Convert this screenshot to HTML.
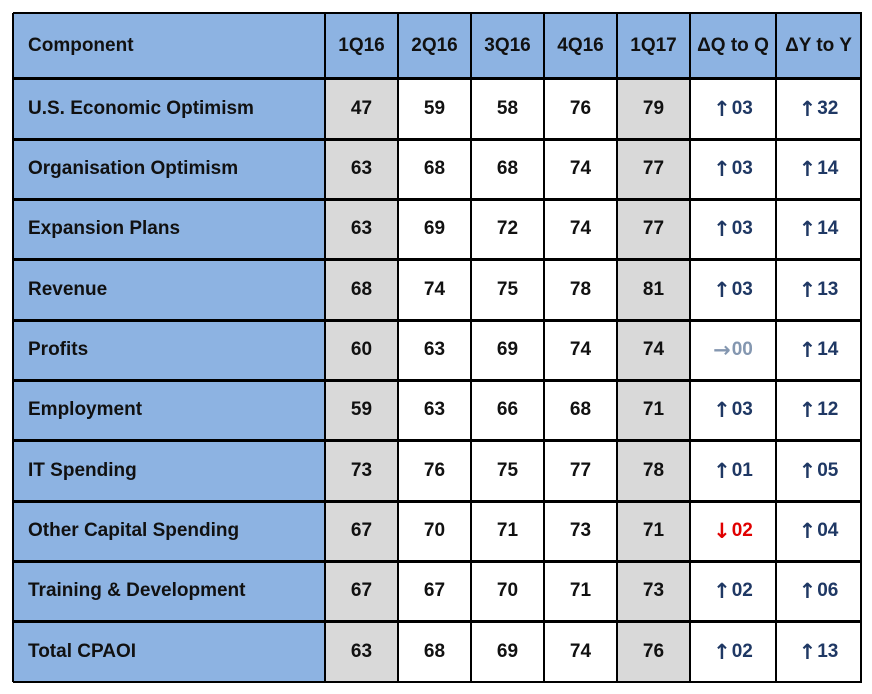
<!DOCTYPE html>
<html><head><meta charset="utf-8"><style>
body{margin:0;width:872px;height:694px;background:#fff;position:relative;font-family:"Liberation Sans",sans-serif;font-weight:bold;overflow:hidden}
.c{position:absolute;box-sizing:border-box;display:flex;align-items:center;justify-content:center;font-size:19px;color:#111}
.l{justify-content:flex-start;padding-left:15px}
.ln{position:absolute;background:#000}
.ar{font-family:"DejaVu Sans",sans-serif;font-weight:bold;font-size:21px;margin-right:1px}
</style></head><body>
<div id="t"></div>
<script>
const colX=[13,325,398,471,544,617,690,776,861];
const rowY=[13,78,139,199,259,320,380,440,501,561,621,682];
const headers=["Component","1Q16","2Q16","3Q16","4Q16","1Q17","ΔQ to Q","ΔY to Y"];
const rows=[
["U.S. Economic Optimism",47,59,58,76,79,["u","03"],["u","32"]],
["Organisation Optimism",63,68,68,74,77,["u","03"],["u","14"]],
["Expansion Plans",63,69,72,74,77,["u","03"],["u","14"]],
["Revenue",68,74,75,78,81,["u","03"],["u","13"]],
["Profits",60,63,69,74,74,["r","00"],["u","14"]],
["Employment",59,63,66,68,71,["u","03"],["u","12"]],
["IT Spending",73,76,75,77,78,["u","01"],["u","05"]],
["Other Capital Spending",67,70,71,73,71,["d","02"],["u","04"]],
["Training & Development",67,67,70,71,73,["u","02"],["u","06"]],
["Total CPAOI",63,68,69,74,76,["u","02"],["u","13"]]];
const t=document.getElementById('t');
function cell(ci,ri,bg){const d=document.createElement('div');d.className='c'+(ci==0?' l':'');
d.style.left=colX[ci]+'px';d.style.top=rowY[ri]+'px';d.style.width=(colX[ci+1]-colX[ci])+'px';d.style.height=(rowY[ri+1]-rowY[ri])+'px';d.style.background=bg;t.appendChild(d);return d;}
headers.forEach((h,ci)=>{const d=cell(ci,0,'#8DB3E2');d.textContent=h;

});
rows.forEach((r,ri)=>{r.forEach((v,ci)=>{
let bg='#fff';if(ci==0)bg='#8DB3E2';else if(ci==1||ci==5)bg='#D9D9D9';
const d=cell(ci,ri+1,bg);
if(Array.isArray(v)){const col=v[0]=='u'?'#1F3864':v[0]=='r'?'#8497B0':'#E00000';const g=v[0]=='u'?'↑':v[0]=='r'?'→':'↓';
d.innerHTML='<span class="ar">'+g+'</span>'+v[1];d.style.color=col;}else d.textContent=v;

});});
rowY.forEach((y,i)=>{const l=document.createElement('div');l.className='ln';const w=(i==0||i==rowY.length-1)?2:3;
l.style.left=colX[0]+'px';l.style.top=(y-1)+'px';l.style.width=(colX[8]-colX[0]+1)+'px';l.style.height=w+'px';

t.appendChild(l);});
colX.forEach((x,i)=>{const l=document.createElement('div');l.className='ln';
l.style.left=(x-1)+'px';l.style.top=rowY[0]+'px';l.style.width='2px';l.style.height=(rowY[11]-rowY[0])+'px';

t.appendChild(l);});
</script>
</body></html>
